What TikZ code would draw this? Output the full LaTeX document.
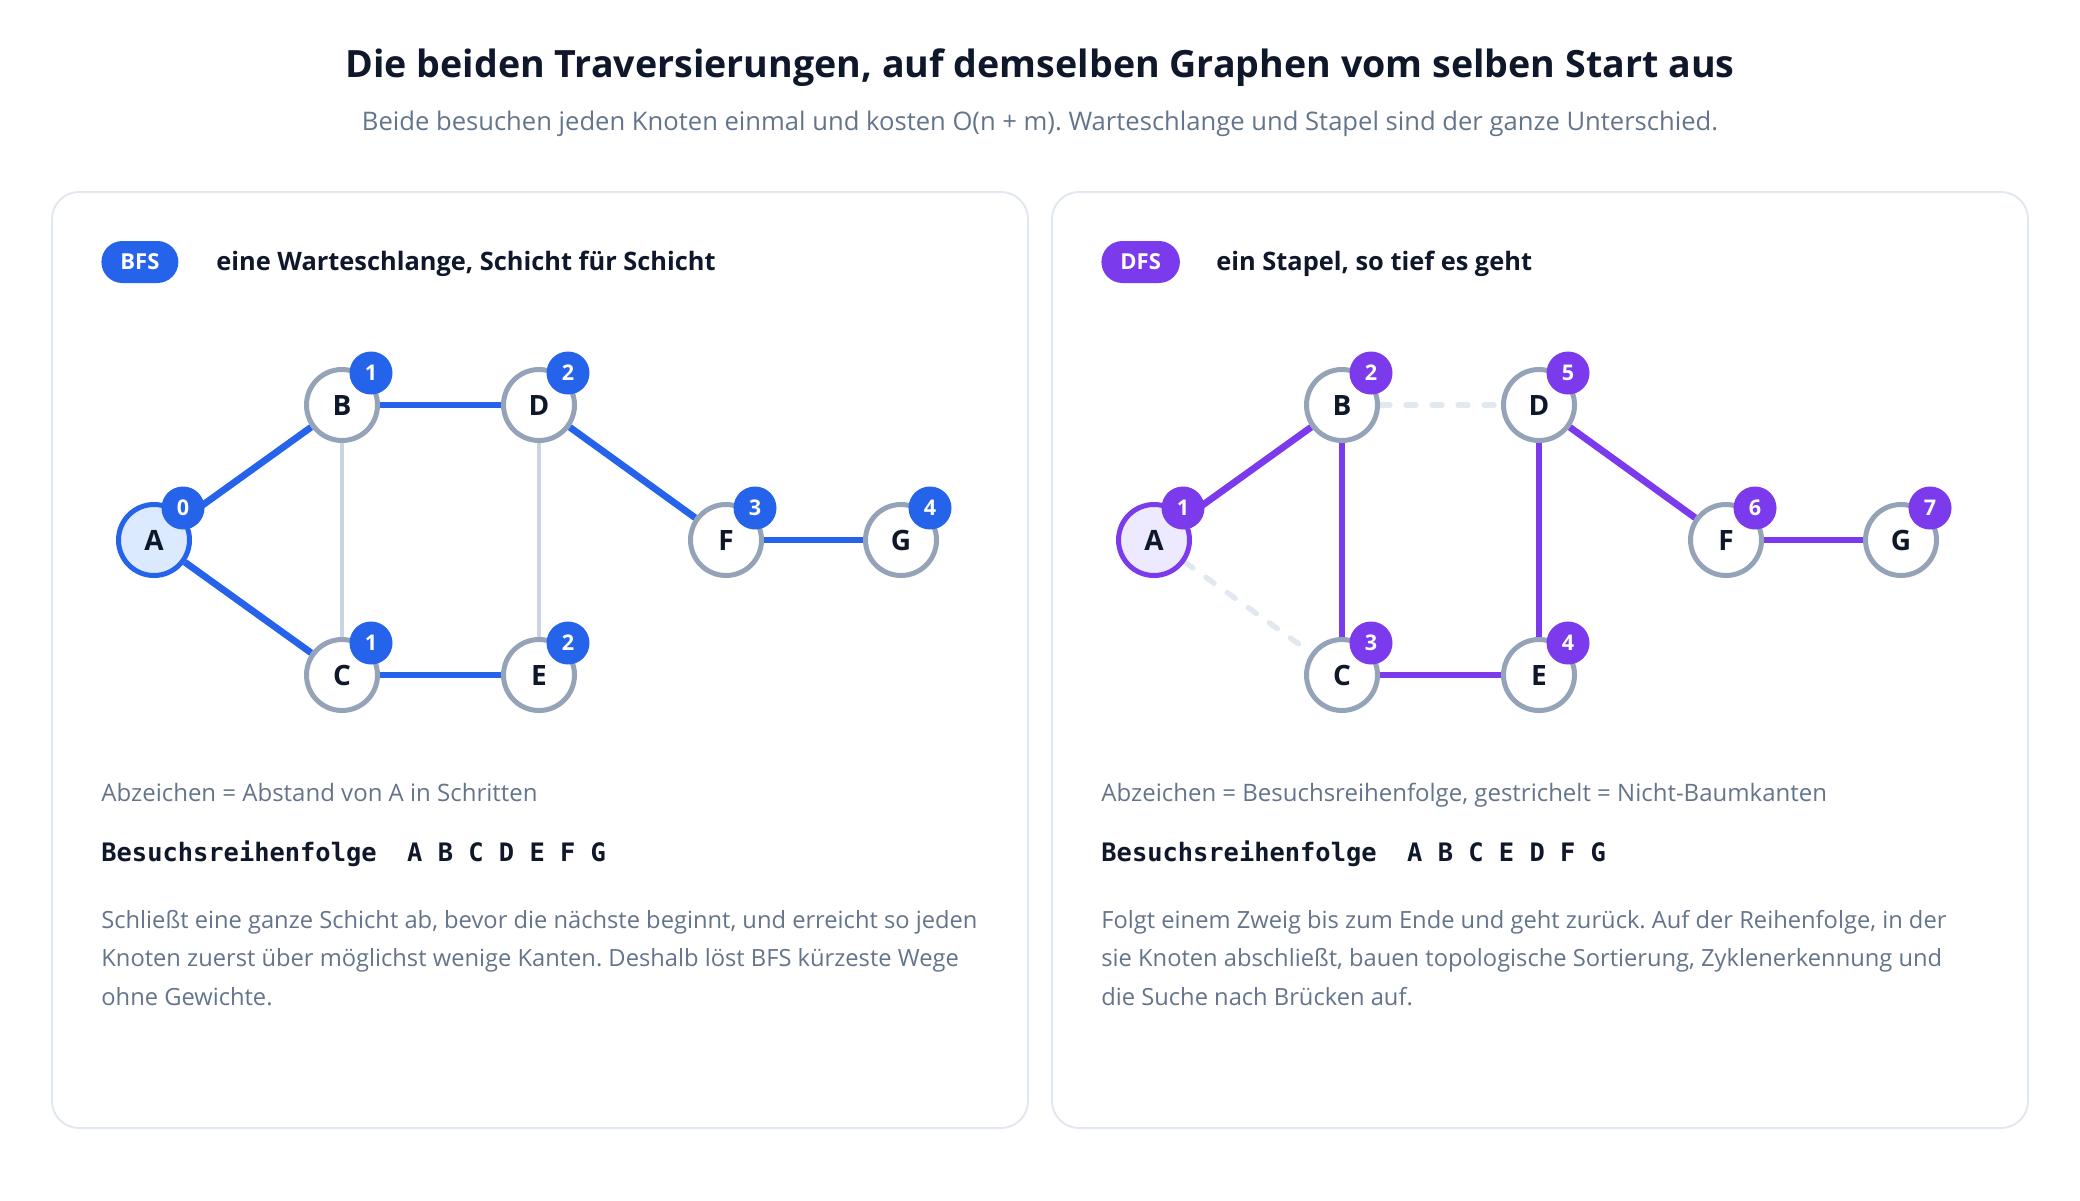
\documentclass[tikz,border=0pt]{standalone}
\usepackage{fontspec}
\setmainfont{Open Sans}
\setmonofont{DejaVu Sans Mono}
\usetikzlibrary{positioning}
\frenchspacing

\definecolor{bfsblue}{HTML}{2563EB}
\definecolor{bfsfill}{HTML}{DBEAFE}
\definecolor{dfspurple}{HTML}{7C3AED}
\definecolor{dfsfill}{HTML}{EDE9FE}
\definecolor{ink}{HTML}{0F172A}
\definecolor{muted}{HTML}{64748B}
\definecolor{ring}{HTML}{94A3B8}
\definecolor{faint}{HTML}{CBD5E1}
\definecolor{hair}{HTML}{E2E8F0}

\pgfdeclarelayer{edges}
\pgfsetlayers{edges,main}

\tikzset{
  vtx/.style={circle, draw=ring, line width=2.5pt, fill=white, minimum size=35.5pt,
    inner sep=0pt, text=ink, font=\bfseries\fontsize{14}{14}\selectfont},
  startvtx/.style 2 args={vtx, draw=#1, fill=#2},
  badge/.style={circle, fill=#1, minimum size=21.5pt, inner sep=0pt, text=white,
    font=\bfseries\fontsize{10.8}{10.8}\selectfont},
  treeedge/.style={draw=#1, line width=3.4pt},
  crossedge/.style={draw=faint, line width=2pt},
  backedge/.style={draw=hair, line width=2.7pt, dash pattern=on 5pt off 8pt, line cap=round},
  pill/.style={fill=#1, rounded corners=10.5pt, minimum height=21pt, inner xsep=9.5pt,
    text=white, font=\bfseries\fontsize{11}{11}\selectfont},
  panel/.style={draw=hair, line width=1pt, rounded corners=13.5pt},
  heading/.style={anchor=west, inner xsep=0pt, text=ink, font=\bfseries\fontsize{12.7}{15}\selectfont},
  legend/.style={anchor=base west, inner xsep=0pt, text=muted, font=\fontsize{12}{14}\selectfont},
  order/.style={anchor=west, inner xsep=0pt, text=ink, font=\ttfamily\bfseries\fontsize{12.7}{15}\selectfont},
  prose/.style={anchor=north west, inner xsep=0pt, align=left, text=muted, font=\fontsize{11.85}{19.25}\selectfont},
}

\begin{document}
\begin{tikzpicture}[x=0.5pt, y=-0.5pt]
  \useasboundingbox (0,0) rectangle (2080,1200);

  \node[text=ink, font=\bfseries\fontsize{18.8}{22}\selectfont] (title) at (1040,68)
    {Die beiden Traversierungen, auf demselben Graphen vom selben Start aus};
  \node[text=muted, font=\fontsize{12.8}{15}\selectfont] (subtitle) at (1040,124)
    {Beide besuchen jeden Knoten einmal und kosten O(n + m). Warteschlange und Stapel sind der ganze Unterschied.};

  % left panel: BFS
  \draw[panel] (52,192) rectangle (1028,1128);
  \node[pill=bfsblue, anchor=west] (bfstag) at (101,262) {BFS};
  \node[heading] (bfshead) at (216,264) {eine Warteschlange, Schicht für Schicht};

  \node[startvtx={bfsblue}{bfsfill}] (bA) at (154,540) {A};
  \node[vtx] (bB) at (342,405) {B};
  \node[vtx] (bD) at (539,405) {D};
  \node[vtx] (bF) at (726,540) {F};
  \node[vtx] (bG) at (901,540) {G};
  \node[vtx] (bC) at (342,675) {C};
  \node[vtx] (bE) at (539,675) {E};

  \begin{pgfonlayer}{edges}
    \draw[treeedge=bfsblue] (bA) -- (bB);
    \draw[treeedge=bfsblue] (bA) -- (bC);
    \draw[treeedge=bfsblue] (bB) -- (bD);
    \draw[treeedge=bfsblue] (bC) -- (bE);
    \draw[treeedge=bfsblue] (bD) -- (bF);
    \draw[treeedge=bfsblue] (bF) -- (bG);
    \draw[crossedge] (bB) -- (bC);
    \draw[crossedge] (bD) -- (bE);
  \end{pgfonlayer}

  \node[badge=bfsblue] (bA0) at ([shift={(29,-32)}]bA) {0};
  \node[badge=bfsblue] (bB1) at ([shift={(29,-32)}]bB) {1};
  \node[badge=bfsblue] (bD2) at ([shift={(29,-32)}]bD) {2};
  \node[badge=bfsblue] (bF3) at ([shift={(29,-32)}]bF) {3};
  \node[badge=bfsblue] (bG4) at ([shift={(29,-32)}]bG) {4};
  \node[badge=bfsblue] (bC1) at ([shift={(29,-32)}]bC) {1};
  \node[badge=bfsblue] (bE2) at ([shift={(29,-32)}]bE) {2};

  \node[legend] (bfskey) at (101,801) {Abzeichen = Abstand von A in Schritten};
  \node[order] (bfsorder) at (101,854) {Besuchsreihenfolge\ \ A B C D E F G};
  \node[prose] (bfstext) at (101,903)
    {Schließt eine ganze Schicht ab, bevor die nächste beginnt, und erreicht so jeden\\
     Knoten zuerst über möglichst wenige Kanten. Deshalb löst BFS kürzeste Wege\\
     ohne Gewichte.};

  % right panel: DFS
  \draw[panel] (1052,192) rectangle (2028,1128);
  \node[pill=dfspurple, anchor=west] (dfstag) at (1101,262) {DFS};
  \node[heading] (dfshead) at (1216,264) {ein Stapel, so tief es geht};

  \node[startvtx={dfspurple}{dfsfill}] (dA) at (1154,540) {A};
  \node[vtx] (dB) at (1342,405) {B};
  \node[vtx] (dD) at (1539,405) {D};
  \node[vtx] (dF) at (1726,540) {F};
  \node[vtx] (dG) at (1901,540) {G};
  \node[vtx] (dC) at (1342,675) {C};
  \node[vtx] (dE) at (1539,675) {E};

  \begin{pgfonlayer}{edges}
    \draw[treeedge=dfspurple] (dA) -- (dB);
    \draw[treeedge=dfspurple] (dB) -- (dC);
    \draw[treeedge=dfspurple] (dC) -- (dE);
    \draw[treeedge=dfspurple] (dE) -- (dD);
    \draw[treeedge=dfspurple] (dD) -- (dF);
    \draw[treeedge=dfspurple] (dF) -- (dG);
    \draw[backedge] (dB) -- (dD);
    \draw[backedge] (dA) -- (dC);
  \end{pgfonlayer}

  \node[badge=dfspurple] (dA1) at ([shift={(29,-32)}]dA) {1};
  \node[badge=dfspurple] (dB2) at ([shift={(29,-32)}]dB) {2};
  \node[badge=dfspurple] (dD5) at ([shift={(29,-32)}]dD) {5};
  \node[badge=dfspurple] (dF6) at ([shift={(29,-32)}]dF) {6};
  \node[badge=dfspurple] (dG7) at ([shift={(29,-32)}]dG) {7};
  \node[badge=dfspurple] (dC3) at ([shift={(29,-32)}]dC) {3};
  \node[badge=dfspurple] (dE4) at ([shift={(29,-32)}]dE) {4};

  \node[legend] (dfskey) at (1101,801) {Abzeichen = Besuchsreihenfolge, gestrichelt = Nicht-Baumkanten};
  \node[order] (dfsorder) at (1101,854) {Besuchsreihenfolge\ \ A B C E D F G};
  \node[prose] (dfstext) at (1101,903)
    {Folgt einem Zweig bis zum Ende und geht zurück. Auf der Reihenfolge, in der\\
     sie Knoten abschließt, bauen topologische Sortierung, Zyklenerkennung und\\
     die Suche nach Brücken auf.};
\end{tikzpicture}
\end{document}
